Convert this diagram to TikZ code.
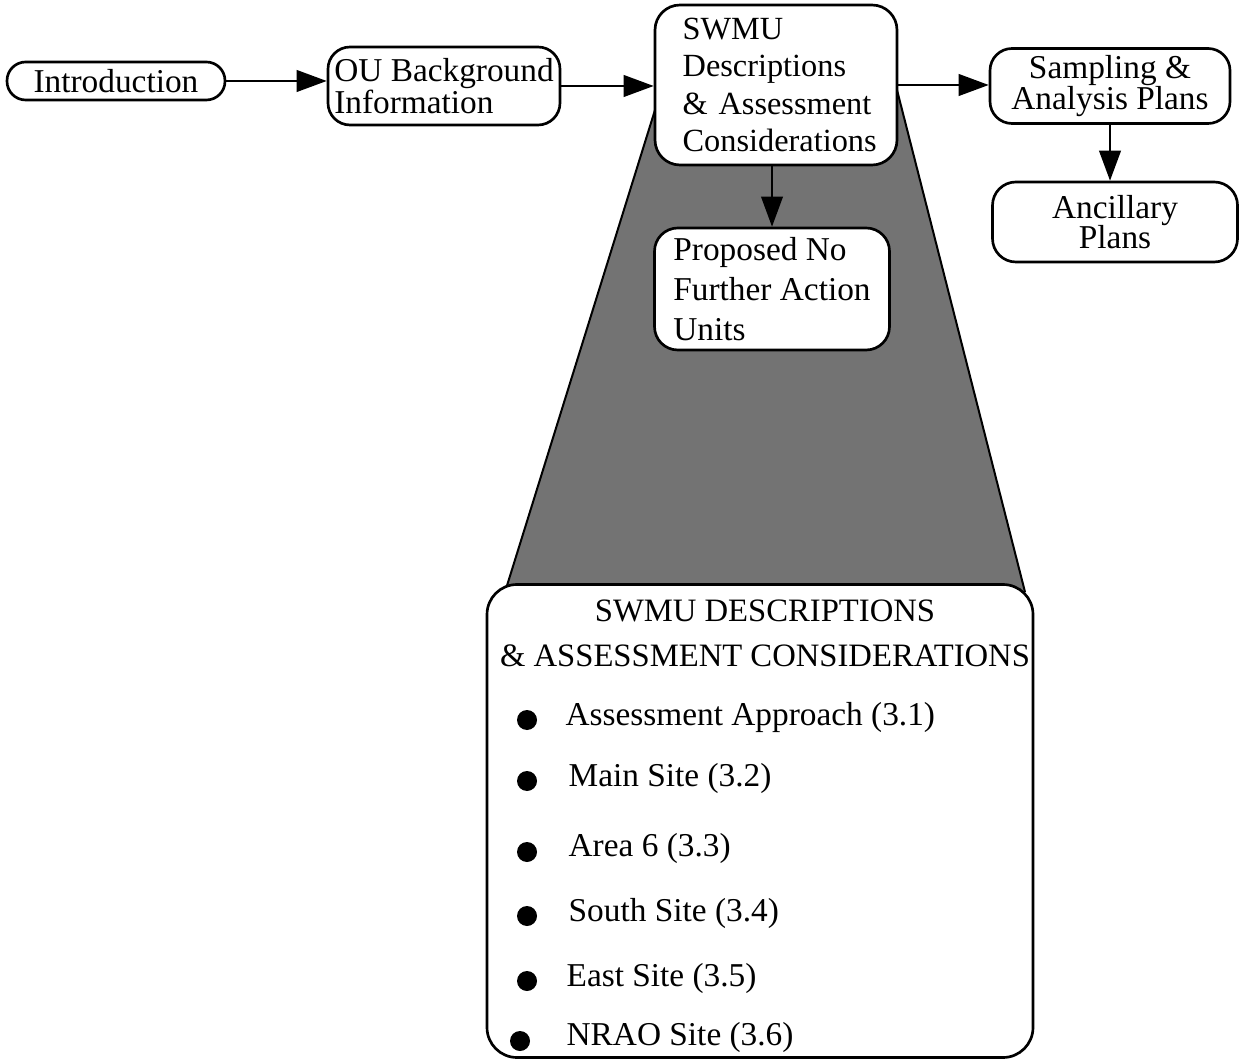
\documentclass[tikz,border=0pt]{standalone}
\usepackage{fontspec}
\setmainfont{Liberation Serif}
\usetikzlibrary{arrows.meta}
\newcommand{\arw}{-{Triangle[length=9pt,width=6.5pt]}}
\newcommand{\nohyph}{\hyphenpenalty10000\relax}

\begin{document}
\begin{tikzpicture}[x=.3pt,y=-.3pt,
  box/.style={draw,line width=.8pt,fill=white,inner sep=0pt},
  item/.style={anchor=west,inner sep=0pt,font=\fontsize{10}{12}\selectfont}]
\useasboundingbox (0,0) rectangle (1242,1062);
%shaded zoom-out behind the boxes
\fill[black!55] (655,110) -- (897,90) -- (1025,592) -- (505,592) -- cycle;
\draw[line width=.6pt] (655,110) -- (505,592);
\draw[line width=.6pt] (897,90) -- (1025,592);
%top row
\node[box,rounded corners=5.6pt,minimum width=65.4pt,minimum height=11.4pt] (intro) at (116,81) {Introduction};
\node[box,rounded corners=6.6pt,minimum width=69.6pt,minimum height=23.4pt,align=left,
  font=\fontsize{10}{9.6}\selectfont] (ou) at (444,86) {OU Background\\Information};
\node[box,rounded corners=7.5pt,minimum width=72.6pt,minimum height=48pt,align=left,text width=56pt,
  font=\fontsize{9.7}{11.2}\selectfont] (swmu) at (776,85)
  {\nohyph SWMU\\Descriptions\\\mbox{\& Assessment}\\Considerations};
\node[box,rounded corners=6.6pt,minimum width=72pt,minimum height=22.5pt,align=center,
  font=\fontsize{10}{9.3}\selectfont] (samp) at (1110,86) {Sampling \&\\Analysis Plans};
\node[box,rounded corners=7pt,minimum width=73.5pt,minimum height=24pt,align=center,
  font=\fontsize{10}{9.2}\selectfont] (anc) at (1115,222) {Ancillary\\Plans};
\node[box,rounded corners=7pt,minimum width=70.5pt,minimum height=36.6pt,align=left,
  font=\fontsize{10}{12}\selectfont] (prop) at (772,289) {Proposed No\\Further Action\\Units};
\draw[\arw,line width=.6pt] (intro.east) -- (intro.east -| ou.west);
\draw[\arw,line width=.6pt] (ou.east) -- (ou.east -| swmu.west);
\draw[\arw,line width=.6pt] (swmu.east) -- (swmu.east -| samp.west);
\draw[\arw,line width=.6pt] (samp.south) -- (samp.south |- anc.north);
\draw[\arw,line width=.5pt] (prop.north |- swmu.south) -- (prop.north);
%detail box
\node[box,rounded corners=9pt,minimum width=163.8pt,minimum height=141.9pt] (detail) at (760,821) {};
\node[align=center,inner sep=0pt,font=\fontsize{9.8}{13.5}\selectfont] (title) at (765,633)
  {SWMU DESCRIPTIONS\\\& ASSESSMENT CONSIDERATIONS};
\node[item] (item1) at (565,717) {Assessment Approach (3.1)};
\node[item] (item2) at (568,778) {Main Site (3.2)};
\node[item] (item3) at (568,848) {Area 6 (3.3)};
\node[item] (item4) at (568,913) {South Site (3.4)};
\node[item] (item5) at (566,978) {East Site (3.5)};
\node[item] (item6) at (566,1037) {NRAO Site (3.6)};
\fill (527,720) circle (3pt);
\fill (527,781) circle (3pt);
\fill (527,852) circle (3pt);
\fill (527,916) circle (3pt);
\fill (527,981) circle (3pt);
\fill (520,1041) circle (3pt);
\end{tikzpicture}
\end{document}
